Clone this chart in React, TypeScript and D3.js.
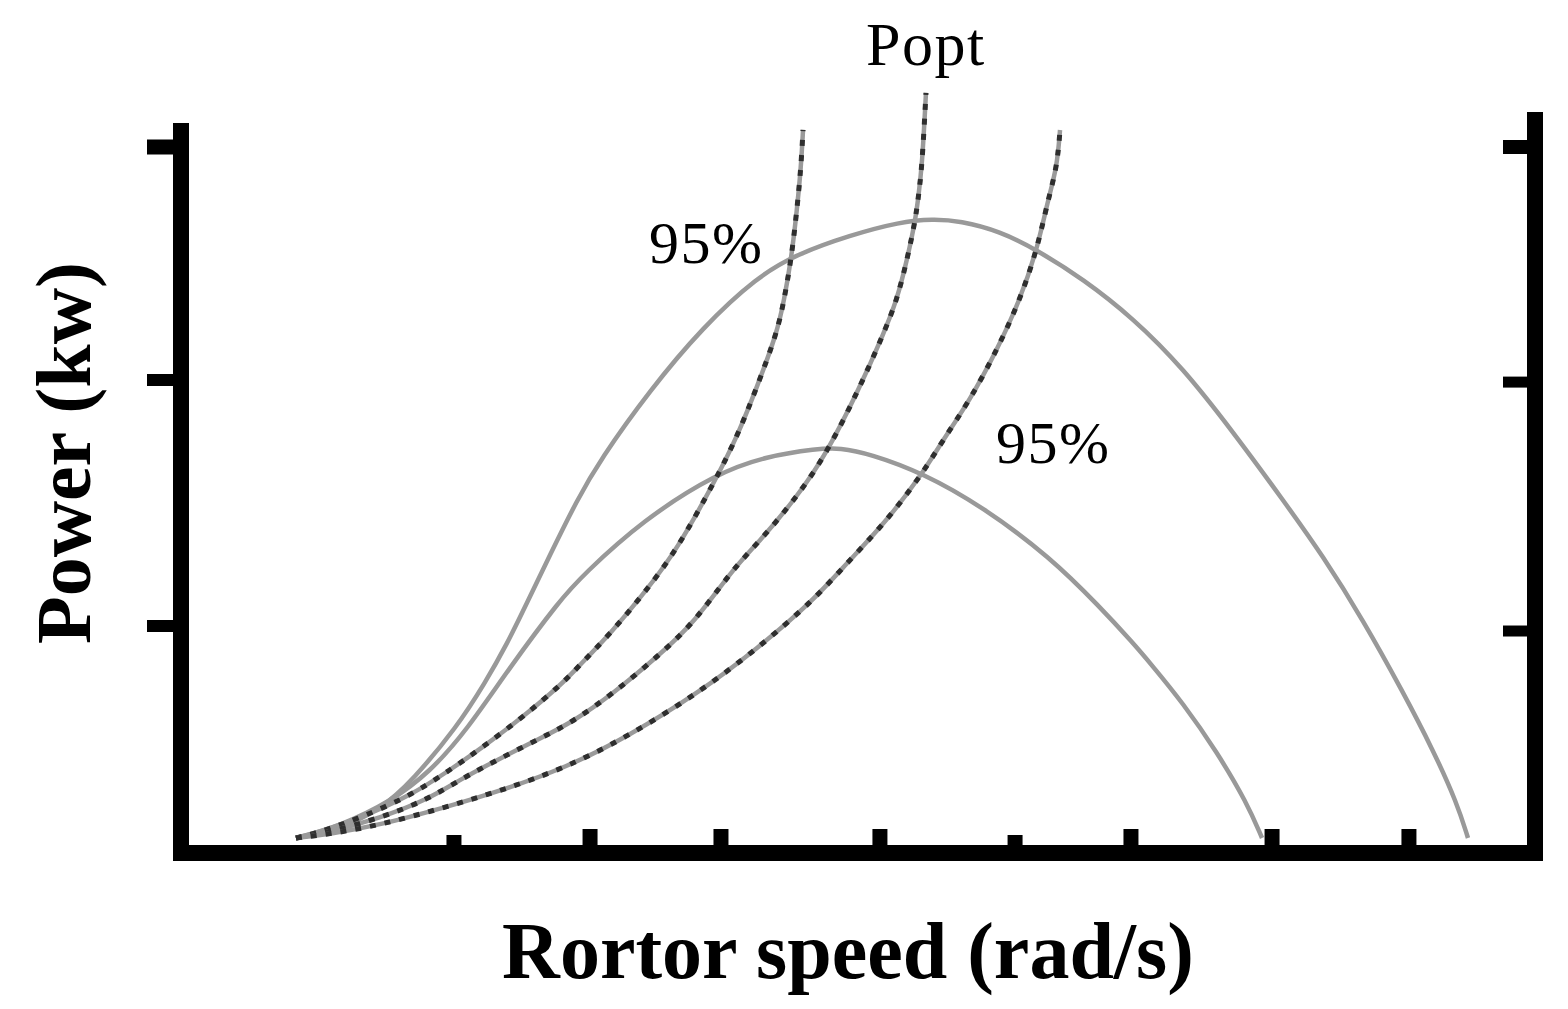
import React from 'react';
import * as d3 from 'd3';

type P = [number, number];

// Rotor speed (x, rad/s-ish units) vs Power (y, kW-ish units)
const powerCurveHigh: P[] = [
  [8.49, 6.37], [11.52, 9.77], [14.7, 18.27], [17.13, 31.02], [20.38, 53.54],
  [22.45, 72.24], [24.08, 88.81], [25.55, 106.24], [27.25, 126.63], [29.25, 150.0],
  [30.95, 167.0], [34.64, 196.74], [38.55, 223.52], [42.54, 244.76], [45.49, 254.5],
  [49.41, 262.5], [53.1, 268.2], [55.54, 269.4], [57.53, 268.6], [60.49, 264.2],
  [63.22, 256.24], [66.62, 243.9], [70.31, 227.34], [74.0, 206.09], [77.7, 178.9],
  [81.39, 150.0], [84.34, 126.2], [87.3, 99.01], [90.25, 68.41], [92.47, 43.78],
  [94.24, 21.25], [95.05, 6.37],
];

const powerCurveLow: P[] = [
  [8.49, 6.37], [11.74, 11.47], [15.44, 21.67], [18.39, 34.42], [21.12, 52.27],
  [24.3, 79.04], [27.99, 107.51], [29.69, 118.13], [34.12, 141.5], [39.59, 161.48],
  [43.28, 168.6], [46.97, 171.8], [48.67, 172.2], [50.89, 169.6], [54.8, 161.48],
  [59.23, 147.03], [64.18, 125.78], [67.87, 104.53], [70.31, 89.24], [71.57, 80.74],
  [74.0, 63.74], [76.51, 42.92], [78.73, 21.25], [79.84, 6.37],
];

const ninetyFiveLeft: P[] = [
  [8.49, 6.37], [10.27, 8.92], [13.22, 14.87], [16.91, 24.22], [19.87, 35.27],
  [22.3, 45.04], [25.26, 57.79], [28.21, 72.24], [29.1, 77.76], [31.83, 93.91],
  [34.27, 110.91], [36.63, 128.75], [39.59, 159.78], [41.06, 176.77], [42.54, 198.02],
  [44.02, 220.97], [44.54, 234.99], [45.06, 251.99], [45.49, 273.24], [45.79, 291.51],
  [45.94, 307.23],
];

const optimalCurve: P[] = [
  [8.49, 6.37], [11.0, 8.92], [14.7, 14.87], [18.17, 22.52], [20.83, 31.87],
  [23.34, 39.52], [26.29, 48.02], [28.95, 55.67], [32.05, 68.41], [35.16, 83.29],
  [37.96, 98.16], [40.69, 120.26], [42.76, 132.58], [45.49, 151.28], [47.71, 169.97],
  [50.15, 198.02], [51.85, 220.12], [52.88, 234.99], [53.62, 251.99], [54.21, 268.13],
  [54.43, 277.48], [54.73, 291.51], [55.02, 322.95],
];

const ninetyFiveRight: P[] = [
  [8.49, 6.37], [11.0, 8.07], [14.7, 11.9], [19.35, 19.12], [23.78, 26.77],
  [28.36, 36.12], [32.94, 49.29], [38.33, 68.41], [42.61, 87.11], [46.6, 106.66],
  [49.19, 123.23], [52.0, 140.23], [54.8, 161.48], [56.28, 175.5], [58.27, 192.5],
  [60.27, 213.74], [61.96, 234.99], [63.22, 256.24], [64.03, 277.48], [64.7, 291.51],
  [64.92, 307.23],
];

const xTicks = [20.16, 30.21, 39.88, 51.62, 61.6, 70.16, 80.58, 90.69];
const yTicksLeft = [300, 201.0, 96.46];
const yTicksRight = [300, 200.1, 94.33];

const xLabel = 'Rortor speed (rad/s)';
const yLabel = 'Power (kw)';
const optLabel = 'Popt';
const pctLabel = '95%';

const SERIF = '"Liberation Serif", "Times New Roman", Times, serif';

export default function App() {
  const W = 1568;
  const H = 1009;
  const x = d3.scaleLinear().domain([0, 100]).range([181, 1535]);
  const y = d3.scaleLinear().domain([0, 300]).range([853, 147]);
  const line = d3
    .line<P>()
    .x((d) => x(d[0]))
    .y((d) => y(d[1]))
    .curve(d3.curveBasis);

  const shortTicks = new Set([0, 4]);
  const AX = 16;

  const dashed = [ninetyFiveLeft, optimalCurve, ninetyFiveRight];

  return (
    <svg
      width={W}
      height={H}
      viewBox={`0 0 ${W} ${H}`}
      style={{ position: 'absolute', left: 0, top: 0, background: '#fff' }}
    >
      <rect x={0} y={0} width={W} height={H} fill="#fff" />

      {/* power curves */}
      {[powerCurveHigh, powerCurveLow].map((c, i) => (
        <path key={'p' + i} d={line(c) || ''} fill="none" stroke="#999999" strokeWidth={4.5} />
      ))}

      {/* dashed optimum / 95% curves */}
      {dashed.map((c, i) => (
        <g key={'d' + i}>
          <path d={line(c) || ''} fill="none" stroke="#9a9a9a" strokeWidth={4.5} />
          <path
            d={line(c) || ''}
            fill="none"
            stroke="#2e2e2e"
            strokeWidth={5}
            strokeDasharray="6 9"
          />
        </g>
      ))}

      {/* axes */}
      <line x1={x(0)} x2={x(0)} y1={y(310.2)} y2={y(0) + AX / 2} stroke="#000" strokeWidth={AX} />
      <line x1={x(100)} x2={x(100)} y1={y(314.9)} y2={y(0) + AX / 2} stroke="#000" strokeWidth={AX} />
      <line x1={x(0) - AX / 2} x2={x(100) + AX / 2} y1={y(0)} y2={y(0)} stroke="#000" strokeWidth={AX} />

      {/* left ticks */}
      {yTicksLeft.map((v, i) => (
        <line
          key={'yl' + i}
          x1={x(0) - 34}
          x2={x(0)}
          y1={y(v)}
          y2={y(v)}
          stroke="#000"
          strokeWidth={i === 0 ? 15 : 12}
        />
      ))}
      {/* right ticks */}
      {yTicksRight.map((v, i) => (
        <line
          key={'yr' + i}
          x1={x(100) - 32}
          x2={x(100)}
          y1={y(v)}
          y2={y(v)}
          stroke="#000"
          strokeWidth={i === 0 ? 14 : 11}
        />
      ))}
      {/* bottom ticks */}
      {xTicks.map((v, i) => (
        <line
          key={'xt' + i}
          x1={x(v)}
          x2={x(v)}
          y1={y(0) - (shortTicks.has(i) ? 18 : 24)}
          y2={y(0)}
          stroke="#000"
          strokeWidth={15}
        />
      ))}

      {/* annotations */}
      <text x={866} y={65} fontFamily={SERIF} fontSize={62} letterSpacing={1.5} fill="#000">
        {optLabel}
      </text>
      <text x={649} y={263} fontFamily={SERIF} fontSize={60} letterSpacing={1.5} fill="#000">
        {pctLabel}
      </text>
      <text x={996} y={463} fontFamily={SERIF} fontSize={60} letterSpacing={1.5} fill="#000">
        {pctLabel}
      </text>

      {/* axis titles */}
      <text
        x={848}
        y={978}
        textAnchor="middle"
        fontFamily={SERIF}
        fontWeight="bold"
        fontSize={80}
        fill="#000"
      >
        {xLabel}
      </text>
      <text
        transform="translate(90,453) rotate(-90)"
        textAnchor="middle"
        fontFamily={SERIF}
        fontWeight="bold"
        fontSize={78}
        fill="#000"
      >
        {yLabel}
      </text>
    </svg>
  );
}
